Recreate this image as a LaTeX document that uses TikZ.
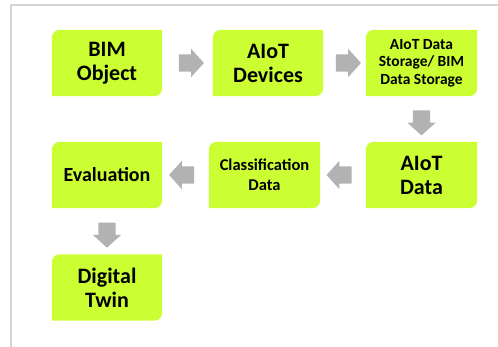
\documentclass[tikz,border=0pt]{standalone}
\usepackage{fontspec}
\setmainfont{Carlito}
\usetikzlibrary{shapes.arrows,calc,backgrounds}
\definecolor{stagegreen}{RGB}{204,255,51}
\definecolor{flowgray}{RGB}{178,178,178}
\definecolor{framegray}{RGB}{212,212,212}
\tikzset{
    stage/.style={minimum width=110pt, minimum height=66pt, inner sep=0pt, align=center, font=\bfseries\fontsize{22}{24}\selectfont},
    flow/.style={single arrow, fill=flowgray, inner xsep=0pt, inner ysep=8.5pt, minimum height=25pt, single arrow head extend=5.5pt, single arrow tip angle=96}
}
\begin{document}
\begin{tikzpicture}[x=1pt, y=1pt]
    \useasboundingbox (0,0) rectangle (498,347);
    \draw [framegray, line width=1.5pt] (11,0) -- (11,342) -- (498,342);
    \node [stage] (bim) at (107,284) {BIM\\Object};
    \node [stage] (dev) at (268,284) {AIoT\\Devices};
    \node [stage, minimum width=111pt, font=\bfseries\fontsize{15.5}{17.5}\selectfont] (store) at (421.5,284) {AIoT Data\\Storage/ BIM\\Data Storage};
    \node [stage, minimum width=111pt] (data) at (421.5,172) {AIoT\\Data};
    \node [stage, minimum width=111pt, font=\bfseries\fontsize{16.5}{20}\selectfont] (cls) at (264.5,172) {Classification\\Data};
    \node [stage, font=\bfseries\fontsize{20}{24}\selectfont] (eval) at (107,172) {Evaluation};
    \node [stage] (twin) at (107,59.5) {Digital\\Twin};
    \begin{scope}[on background layer]
        \foreach \n in {bim,dev,store,data,cls,eval,twin}
            \fill [stagegreen] (\n.north east) -- ([yshift=8pt]\n.south east) arc [start angle=0, end angle=-90, radius=8pt] -- (\n.south west) -- ([yshift=-8pt]\n.north west) arc [start angle=180, end angle=90, radius=8pt] -- cycle;
    \end{scope}
    \node [flow] (a1) at ($(bim.east)!0.5!(dev.west)$) {};
    \node [flow] (a2) at ($(dev.east)!0.5!(store.west)$) {};
    \node [flow, rotate=-90] (a3) at ($(store.south)!0.5!(data.north)$) {};
    \node [flow, rotate=180] (a4) at ($(data.west)!0.5!(cls.east)$) {};
    \node [flow, rotate=180] (a5) at ($(cls.west)!0.5!(eval.east)$) {};
    \node [flow, rotate=-90] (a6) at ($(eval.south)!0.5!(twin.north)$) {};
\end{tikzpicture}
\end{document}
